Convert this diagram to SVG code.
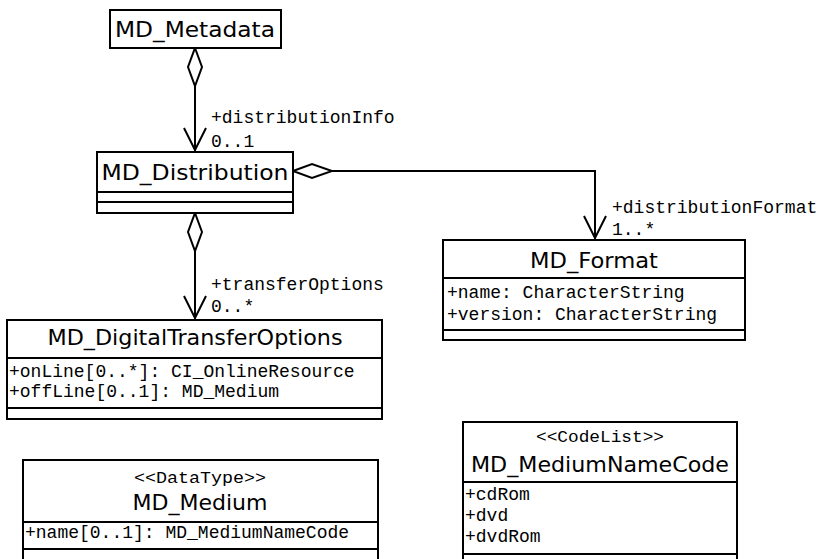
<svg xmlns="http://www.w3.org/2000/svg" width="821" height="559" viewBox="0 0 821 559">
<style>
.box{fill:#fff;stroke:#000;stroke-width:2}
.div{stroke:#000;stroke-width:2}
.title{font-family:"DejaVu Sans","Liberation Sans",sans-serif;font-size:21px;fill:#000}
.mono{font-family:"Liberation Mono","DejaVu Sans Mono",monospace;font-size:18px;fill:#000}
.stereo{font-family:"Liberation Mono","DejaVu Sans Mono",monospace;font-size:16px;fill:#000}
.conn{fill:none;stroke:#000;stroke-width:2}
.dia{fill:#fff;stroke:#000;stroke-width:2}
</style>
<rect width="821" height="559" fill="#fff"/>
<g id="connectors">
  <line class="conn" x1="195" y1="86" x2="195" y2="151"/>
  <polyline class="conn" points="184,128 195,150 206,128"/>
  <polygon class="dia" points="195,48 202,67 195,86 188,67"/>
  <text class="mono" x="211" y="123">+distributionInfo</text>
  <text class="mono" x="211" y="147">0..1</text>

  <line class="conn" x1="195" y1="251" x2="195" y2="319"/>
  <polyline class="conn" points="184,296 195,318 206,296"/>
  <polygon class="dia" points="195,213 202,232 195,251 188,232"/>
  <text class="mono" x="211" y="290">+transferOptions</text>
  <text class="mono" x="211" y="312">0..*</text>

  <polyline class="conn" points="332,171 595,171 595,239"/>
  <polyline class="conn" points="584,216 595,238 606,216"/>
  <polygon class="dia" points="293,171 312,164 332,171 312,178"/>
  <text class="mono" x="612" y="213">+distributionFormat</text>
  <text class="mono" x="612" y="235">1..*</text>
</g>
<g id="MD_Metadata">
  <rect class="box" x="110" y="10" width="171" height="38"/>
  <text class="title" x="195" y="37" text-anchor="middle" textLength="160" lengthAdjust="spacingAndGlyphs">MD_Metadata</text>
</g>
<g id="MD_Distribution">
  <rect class="box" x="97" y="152" width="196" height="61"/>
  <line class="div" x1="97" y1="192" x2="293" y2="192"/>
  <line class="div" x1="97" y1="202" x2="293" y2="202"/>
  <text class="title" x="195" y="180" text-anchor="middle" textLength="187" lengthAdjust="spacingAndGlyphs">MD_Distribution</text>
</g>
<g id="MD_Format">
  <rect class="box" x="443" y="240" width="302" height="100"/>
  <line class="div" x1="443" y1="278" x2="745" y2="278"/>
  <line class="div" x1="443" y1="330" x2="745" y2="330"/>
  <text class="title" x="594" y="268" text-anchor="middle" textLength="128" lengthAdjust="spacingAndGlyphs">MD_Format</text>
  <text class="mono" x="447" y="298">+name: CharacterString</text>
  <text class="mono" x="447" y="320">+version: CharacterString</text>
</g>
<g id="MD_DigitalTransferOptions">
  <rect class="box" x="7" y="320" width="375" height="99"/>
  <line class="div" x1="7" y1="358" x2="382" y2="358"/>
  <line class="div" x1="7" y1="408" x2="382" y2="408"/>
  <text class="title" x="195" y="345" text-anchor="middle" textLength="295" lengthAdjust="spacingAndGlyphs">MD_DigitalTransferOptions</text>
  <text class="mono" x="9" y="377">+onLine[0..*]: CI_OnlineResource</text>
  <text class="mono" x="9" y="397">+offLine[0..1]: MD_Medium</text>
</g>
<g id="MD_Medium">
  <rect class="box" x="23" y="460" width="355" height="110"/>
  <line class="div" x1="23" y1="522" x2="378" y2="522"/>
  <line class="div" x1="23" y1="549" x2="378" y2="549"/>
  <text class="stereo" x="200" y="483" text-anchor="middle" textLength="132" lengthAdjust="spacingAndGlyphs">&lt;&lt;DataType&gt;&gt;</text>
  <text class="title" x="200" y="510" text-anchor="middle" textLength="135" lengthAdjust="spacingAndGlyphs">MD_Medium</text>
  <text class="mono" x="25" y="538">+name[0..1]: MD_MediumNameCode</text>
</g>
<g id="MD_MediumNameCode">
  <rect class="box" x="463" y="422" width="274" height="148"/>
  <line class="div" x1="463" y1="482" x2="737" y2="482"/>
  <line class="div" x1="463" y1="554" x2="737" y2="554"/>
  <text class="stereo" x="600" y="442" text-anchor="middle" textLength="128" lengthAdjust="spacingAndGlyphs">&lt;&lt;CodeList&gt;&gt;</text>
  <text class="title" x="600" y="472" text-anchor="middle" textLength="258" lengthAdjust="spacingAndGlyphs">MD_MediumNameCode</text>
  <text class="mono" x="465" y="500">+cdRom</text>
  <text class="mono" x="465" y="521">+dvd</text>
  <text class="mono" x="465" y="542">+dvdRom</text>
</g>
</svg>
